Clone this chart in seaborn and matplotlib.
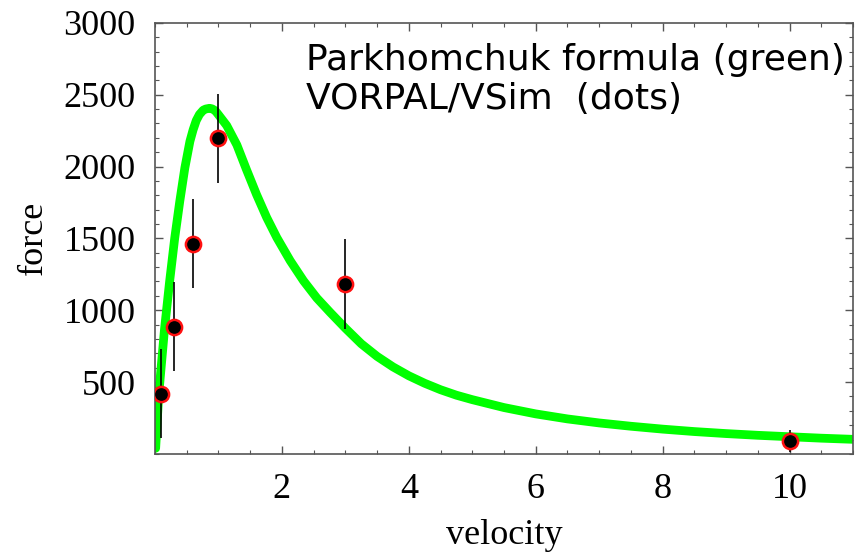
import matplotlib
matplotlib.use("Agg")
import matplotlib.pyplot as plt
import seaborn as sns
import pandas as pd
from matplotlib.ticker import MultipleLocator

# Parkhomchuk formula curve
curve_v = [0.01, 0.06, 0.15, 0.23, 0.31, 0.39, 0.47, 0.55, 0.60, 0.65, 0.70,
           0.76, 0.80, 0.86, 0.90, 0.95, 1.0, 1.13, 1.29, 1.44, 1.6, 1.76,
           1.92, 2.13, 2.34, 2.55, 2.76, 3.0, 3.25, 3.5, 3.75, 4.0, 4.25,
           4.5, 4.75, 5.0, 5.5, 6.0, 6.5, 7.0, 7.5, 8.0, 8.5, 9.0, 9.5,
           10.0, 10.5, 11.0]
curve_f = [40, 420, 870, 1200, 1500, 1757, 1990, 2175, 2255, 2320, 2362,
           2392, 2400, 2405, 2401, 2388, 2360, 2285, 2150, 1980, 1805, 1645,
           1505, 1345, 1205, 1085, 985, 875, 767, 679, 606, 544, 492,
           447, 409, 378, 323, 279, 244, 216, 193, 173, 156, 142, 130,
           120, 110, 102]

# VORPAL/VSim simulation points
sim_v = [0.1, 0.3, 0.6, 1.0, 3.0, 10.0]
sim_f = [418, 886, 1463, 2195, 1183, 92]
sim_err = [310, 310, 310, 310, 310, 78]

x_ticks = [2, 4, 6, 8, 10]
y_ticks = [500, 1000, 1500, 2000, 2500, 3000]

sns.set_theme(style="ticks")
plt.rcParams["font.family"] = ["Liberation Serif", "DejaVu Serif"]
plt.rcParams["text.color"] = "black"
plt.rcParams["axes.labelcolor"] = "black"

fig = plt.figure(figsize=(8.66, 5.55), dpi=100)
ax = fig.add_axes([0.179, 0.182, 0.806, 0.777])

curve_df = pd.DataFrame({"velocity": curve_v, "force": curve_f})
sim_df = pd.DataFrame({"velocity": sim_v, "force": sim_f})

sns.lineplot(data=curve_df, x="velocity", y="force", ax=ax, color="#00ff00",
             linewidth=6.3, sort=False, zorder=2, solid_capstyle="round",
             solid_joinstyle="round")
ax.errorbar(sim_v, sim_f, yerr=sim_err, fmt="none", ecolor="black",
            elinewidth=1.2, capsize=0, zorder=3)
sns.scatterplot(data=sim_df, x="velocity", y="force", ax=ax, color="black",
                edgecolor="#ff1010", linewidth=1.8, s=120, zorder=4)

ax.set_xlim(0, 11)
ax.set_ylim(0, 3000)
ax.set_xticks(x_ticks)
ax.set_yticks(y_ticks)
ax.xaxis.set_minor_locator(MultipleLocator(0.5))
ax.yaxis.set_minor_locator(MultipleLocator(100))
ax.tick_params(which="both", direction="in", top=True, right=True,
               colors="#555555", labelcolor="black")
ax.tick_params(which="major", length=6, width=1.0, labelsize=26)
ax.tick_params(which="minor", length=3, width=0.8)
ax.tick_params(axis="y", which="major", pad=14)
ax.tick_params(axis="x", which="major", pad=14)
for sp in ax.spines.values():
    sp.set_color("#555555")
    sp.set_linewidth(1.2)

ax.set_xlabel("velocity", fontsize=26, labelpad=9, color="black")
ax.set_ylabel("force", fontsize=26, labelpad=10, color="black")

ax.text(0.216, 0.952, "Parkhomchuk formula (green)\nVORPAL/VSim  (dots)",
        transform=ax.transAxes, ha="left", va="top", fontsize=26,
        family=["DejaVu Sans"], linespacing=1.18, color="black")

fig.savefig("out.png", dpi=100)
